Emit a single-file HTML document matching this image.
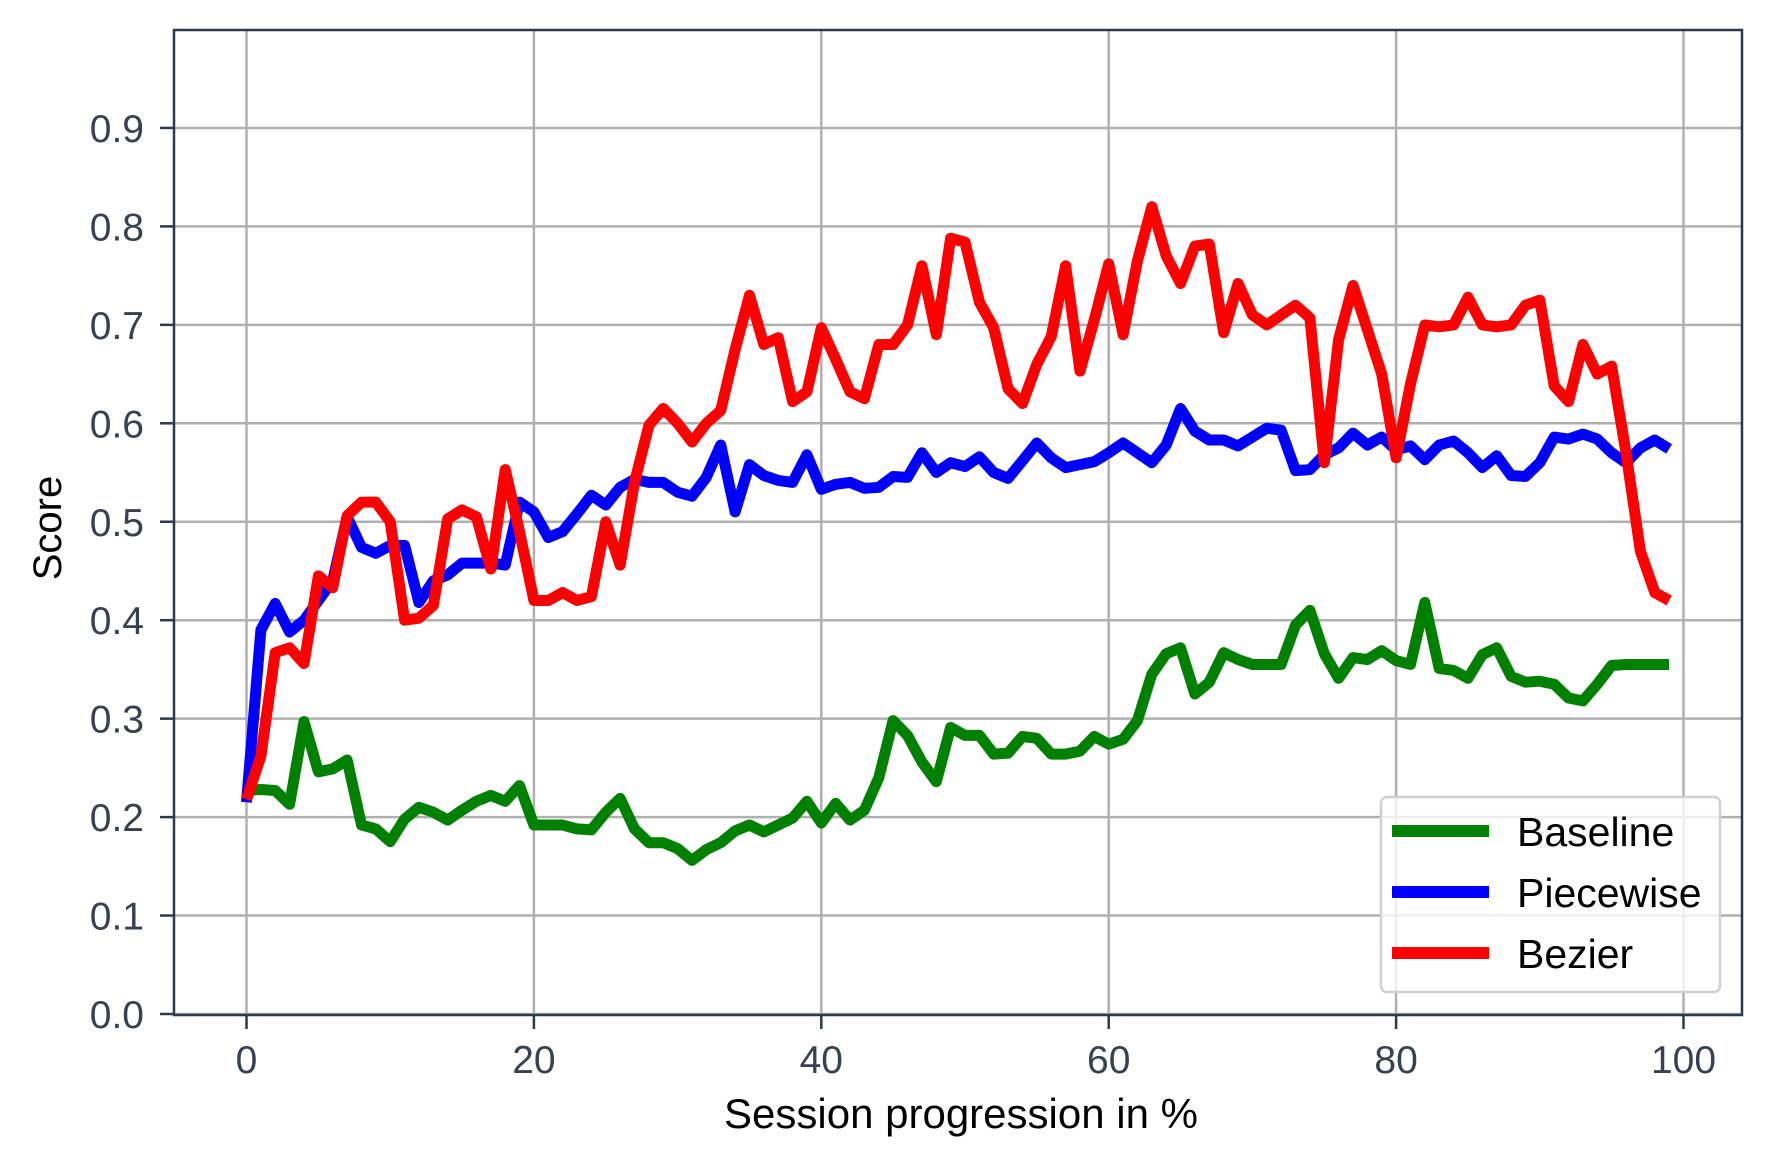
<!DOCTYPE html>
<html><head><meta charset="utf-8"><style>
html,body{margin:0;padding:0;background:#fff;}
svg text{font-family:"Liberation Sans",sans-serif;}
</style></head><body>
<svg id="chart" width="1770" height="1170" viewBox="0 0 1770 1170" xmlns="http://www.w3.org/2000/svg">
<rect x="0" y="0" width="1770" height="1170" fill="#fff"/>
<g id="grid"></g>
<g id="series"></g>
<g id="axes"></g>
<g id="legend"></g>
</svg>
<script>
const xTicks=[0,20,40,60,80,100];
const yTicks=[0.0,0.1,0.2,0.3,0.4,0.5,0.6,0.7,0.8,0.9];
const yTickLabels=["0.0","0.1","0.2","0.3","0.4","0.5","0.6","0.7","0.8","0.9"];
const baseline=[0.227,0.228,0.227,0.213,0.297,0.246,0.249,0.258,0.192,0.188,0.175,0.198,0.21,0.205,0.197,0.207,0.216,0.222,0.216,0.232,0.192,0.192,0.192,0.188,0.187,0.205,0.219,0.188,0.174,0.174,0.168,0.156,0.167,0.174,0.186,0.192,0.185,0.192,0.199,0.216,0.194,0.214,0.197,0.207,0.24,0.298,0.283,0.256,0.236,0.291,0.283,0.283,0.264,0.265,0.282,0.28,0.264,0.264,0.267,0.282,0.274,0.279,0.298,0.345,0.366,0.372,0.325,0.337,0.367,0.36,0.355,0.355,0.355,0.395,0.41,0.366,0.341,0.362,0.36,0.369,0.359,0.355,0.418,0.351,0.349,0.341,0.365,0.372,0.343,0.337,0.338,0.335,0.321,0.318,0.335,0.354,0.355,0.355,0.355,0.355];
const piecewise=[0.215,0.39,0.417,0.388,0.4,0.42,0.44,0.505,0.474,0.468,0.476,0.476,0.418,0.44,0.446,0.458,0.458,0.458,0.456,0.52,0.51,0.484,0.49,0.508,0.527,0.517,0.535,0.543,0.54,0.54,0.53,0.526,0.545,0.578,0.51,0.558,0.547,0.542,0.54,0.568,0.533,0.538,0.54,0.534,0.535,0.546,0.545,0.57,0.55,0.56,0.556,0.566,0.55,0.544,0.562,0.58,0.565,0.555,0.558,0.561,0.57,0.58,0.57,0.56,0.578,0.615,0.592,0.583,0.583,0.577,0.586,0.595,0.593,0.552,0.553,0.568,0.575,0.59,0.578,0.586,0.573,0.577,0.563,0.578,0.582,0.57,0.555,0.567,0.547,0.546,0.56,0.586,0.584,0.589,0.584,0.57,0.56,0.575,0.583,0.574];
const bezier=[0.218,0.262,0.367,0.372,0.356,0.445,0.433,0.506,0.52,0.52,0.5,0.4,0.402,0.415,0.503,0.512,0.505,0.452,0.553,0.49,0.42,0.42,0.428,0.42,0.424,0.5,0.456,0.54,0.598,0.615,0.6,0.581,0.6,0.613,0.675,0.73,0.68,0.687,0.622,0.632,0.697,0.665,0.632,0.625,0.68,0.68,0.7,0.76,0.69,0.788,0.784,0.723,0.697,0.635,0.62,0.66,0.688,0.76,0.653,0.705,0.762,0.69,0.765,0.82,0.77,0.742,0.78,0.782,0.692,0.742,0.71,0.7,0.71,0.72,0.707,0.56,0.685,0.74,0.695,0.65,0.565,0.64,0.7,0.698,0.7,0.728,0.7,0.698,0.7,0.72,0.725,0.638,0.622,0.68,0.65,0.658,0.57,0.47,0.428,0.42];
const seriesNames=["Baseline","Piecewise","Bezier"];
const seriesColors=["#008000","#0000ff","#ff0000"];

const NS="http://www.w3.org/2000/svg";
const L=174,R=1742,T=30,B=1015;
function X(v){return 246.5+v*14.37;}
function Y(v){return 1014-v*984.5;}
function mk(tag,attrs,parent){const e=document.createElementNS(NS,tag);for(const k in attrs)e.setAttribute(k,attrs[k]);parent.appendChild(e);return e;}
const grid=document.getElementById('grid'),axes=document.getElementById('axes'),ser=document.getElementById('series'),leg=document.getElementById('legend');

xTicks.forEach(t=>{
  const g=mk('line',{x1:X(t),x2:X(t),y1:T,y2:B,stroke:'#b0b0b0','stroke-width':2.5},grid);
  
  
  const tk=mk('line',{x1:X(t),x2:X(t),y1:B,y2:B+14,stroke:'#2e3a48','stroke-width':2.5},axes);
  
  
  const tx=mk('text',{x:X(t),y:1073,'text-anchor':'middle','font-size':39,fill:'#37414f'},axes);
  tx.textContent=String(t);
  
  
});
yTicks.forEach((t,i)=>{
  const g=mk('line',{x1:L,x2:R,y1:Y(t),y2:Y(t),stroke:'#b0b0b0','stroke-width':2.5},grid);
  
  
  const tk=mk('line',{x1:L-14,x2:L,y1:Y(t),y2:Y(t),stroke:'#2e3a48','stroke-width':2.5},axes);
  
  
  const tx=mk('text',{x:144,y:Y(t)+14,'text-anchor':'end','font-size':39,fill:'#37414f'},axes);
  tx.textContent=yTickLabels[i];
  
  
});
const sp=mk('rect',{x:L,y:T,width:R-L,height:B-T,fill:'none',stroke:'#2e3a48','stroke-width':2.5},axes);



[baseline,piecewise,bezier].forEach((d,si)=>{
  const p=d.map((v,i)=>(i?'L':'M')+X(i).toFixed(1)+' '+Y(v).toFixed(1)).join(' ');
  const path=mk('path',{d:p,fill:'none',stroke:seriesColors[si],'stroke-width':11,'stroke-linejoin':'round'},ser);
  
  
});

const xl=mk('text',{x:961,y:1128,'text-anchor':'middle','font-size':42,fill:'#000'},axes);
xl.textContent='Session progression in %';


const yl=mk('text',{x:0,y:0,'text-anchor':'middle','font-size':40,fill:'#000',transform:'translate(61,528) rotate(-90)'},axes);
yl.textContent='Score';



const lb=mk('rect',{x:1381,y:797,width:339,height:195,rx:6,fill:'rgba(255,255,255,0.8)',stroke:'#d0d0d0','stroke-width':2.5},leg);


seriesNames.forEach((n,i)=>{
  const y=831+i*61;
  const ln=mk('line',{x1:1392,x2:1489,y1:y,y2:y,stroke:seriesColors[i],'stroke-width':12},leg);
  
  
  const t=mk('text',{x:1517,y:y+15,'font-size':41,fill:'#000'},leg);
  t.textContent=n;
  
  
});
</script>
</body></html>
